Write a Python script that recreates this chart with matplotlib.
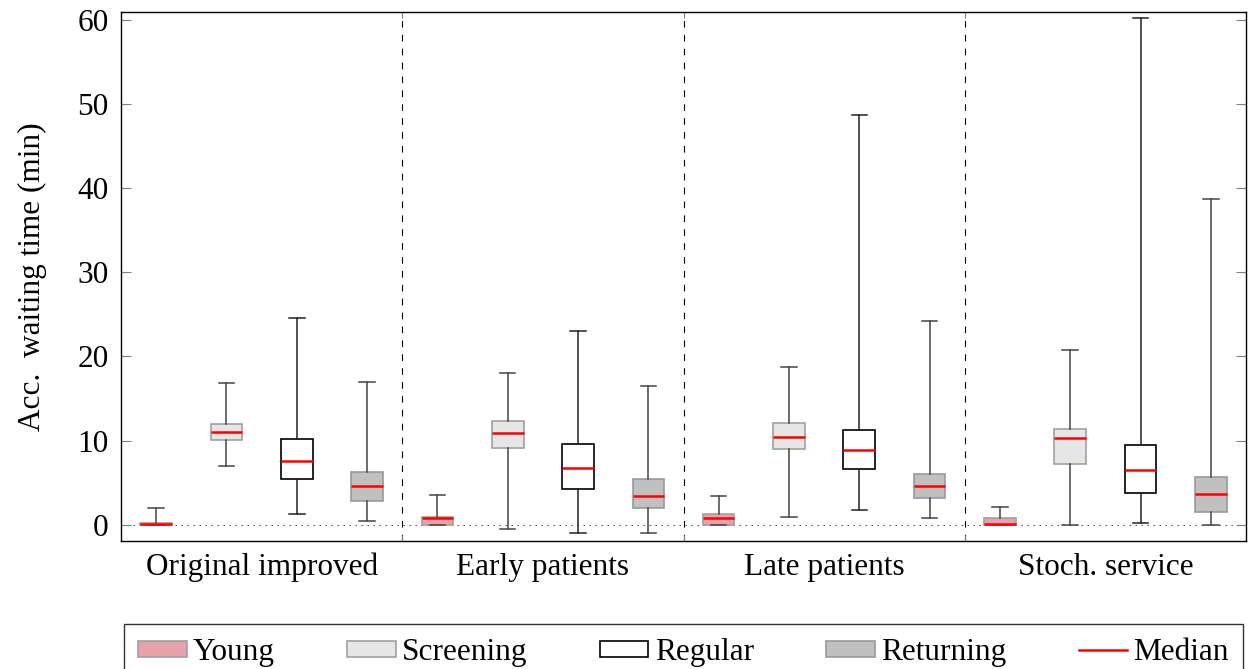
import numpy as np
import matplotlib
matplotlib.use("Agg")
import matplotlib.pyplot as plt
from matplotlib.patches import Patch
from matplotlib.lines import Line2D

plt.rcParams['font.family'] = ['Liberation Serif', 'DejaVu Serif']

scenarios = ["Original improved", "Early patients", "Late patients", "Stoch. service"]
classes = ["Young", "Screening", "Regular", "Returning"]

# (lower whisker, q1, median, q3, upper whisker) per scenario, in minutes
young = [(0.0, 0.0, 0.08, 0.15, 2.0),
         (0.0, 0.0, 0.77, 0.86, 3.55),
         (0.0, 0.0, 0.81, 1.2, 3.4),
         (0.0, 0.0, 0.05, 0.73, 2.08)]
screening = [(7.0, 10.07, 11.0, 11.98, 16.9),
             (-0.5, 9.08, 10.94, 12.34, 18.0),
             (0.89, 9.04, 10.39, 12.1, 18.7),
             (0.0, 7.17, 10.31, 11.42, 20.8)]
regular = [(1.25, 5.46, 7.6, 10.19, 24.6),
           (-0.98, 4.2, 6.77, 9.56, 23.0),
           (1.73, 6.58, 8.84, 11.3, 48.7),
           (0.21, 3.72, 6.5, 9.44, 60.3)]
returning = [(0.38, 2.8, 4.55, 6.26, 17.0),
             (-1.05, 2.0, 3.43, 5.42, 16.5),
             (0.77, 3.12, 4.55, 6.02, 24.2),
             (0.0, 1.53, 3.6, 5.63, 38.7)]

# fill, edge, whisker colours for each patient class
fills = ["#e8a2ac", "#e6e6e6", "#ffffff", "#c0c0c0"]
edges = ["#a0a0a0", "#a0a0a0", "#000000", "#999999"]
whisk = ["#444444", "#444444", "#222222", "#444444"]

fig = plt.figure(figsize=(12.49, 6.69), dpi=100)
ax = fig.add_axes([121 / 1249, 1 - 541 / 669, 1125 / 1249, 529 / 669])

n_cls = len(classes)
for k, data in enumerate([young, screening, regular, returning]):
    stats = []
    for lo, q1, med, q3, hi in data:
        stats.append(dict(whislo=lo, q1=q1, med=med, q3=q3, whishi=hi, fliers=[]))
    pos = [g * n_cls + k + 0.5 for g in range(len(scenarios))]
    ax.bxp(stats, positions=pos, widths=0.45, capwidths=0.22, patch_artist=True,
           showfliers=False,
           boxprops=dict(facecolor=fills[k], edgecolor=edges[k], linewidth=1.2),
           whiskerprops=dict(color=whisk[k], linewidth=1.1),
           capprops=dict(color=whisk[k], linewidth=1.1),
           medianprops=dict(color="red", linewidth=1.8))

ax.axhline(0, color="#555555", lw=0.8, ls=(0, (1.3, 4.1)), zorder=0)
for g in range(1, len(scenarios)):
    ax.axvline(g * n_cls, color="black", lw=0.8, ls=(0, (6, 6.5)), zorder=0)

ax.set_xlim(0, n_cls * len(scenarios))
ax.set_ylim(-1.96, 61.0)
ax.set_yticks([0, 10, 20, 30, 40, 50, 60])
ax.set_xticks([g * n_cls for g in range(1, len(scenarios))])
ax.set_xticklabels([])
ax.tick_params(axis="y", direction="in", length=7, width=0.8, color="#808080",
               right=True, labelsize=22.5, pad=9)
ax.tick_params(axis="x", direction="in", length=4, width=0.8, color="#808080",
               top=True)
for s in ax.spines.values():
    s.set_linewidth(1.0)

for g, name in enumerate(scenarios):
    ax.text(g * n_cls + n_cls / 2, -0.05, name, transform=ax.get_xaxis_transform(),
            ha="center", va="center", fontsize=22.5)

ax.set_ylabel("Acc.  waiting time (min)", fontsize=22.5, labelpad=22)

handles = [Patch(facecolor=fills[k], edgecolor=edges[k], linewidth=1.2) for k in range(n_cls)]
handles.append(Line2D([], [], color="red", lw=1.8))
leg = fig.legend(handles, classes + ["Median"], loc="upper left",
                 bbox_to_anchor=(124 / 1249, 1 - 624 / 669), ncol=5,
                 fontsize=22.5, frameon=True, fancybox=False, borderaxespad=0,
                 handlelength=1.55, handleheight=0.45, handletextpad=0.2,
                 columnspacing=2.32, borderpad=0.45)
leg.get_frame().set_edgecolor("black")
leg.get_frame().set_linewidth(1.0)

fig.savefig("out.png", dpi=100)
